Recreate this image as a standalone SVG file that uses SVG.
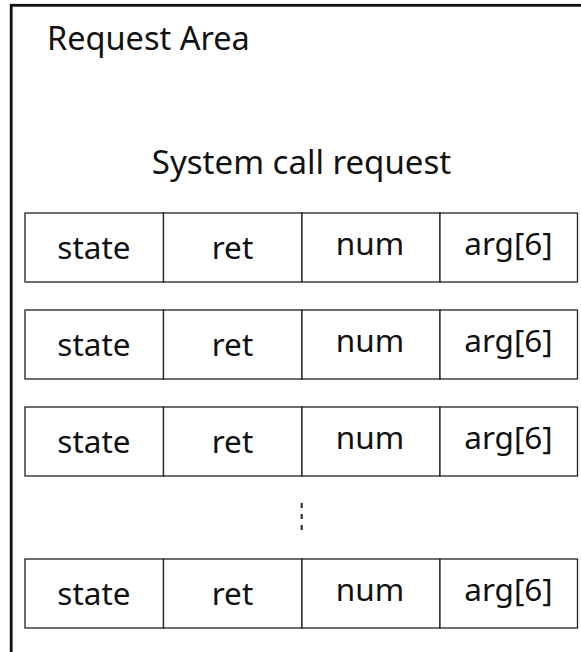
<svg xmlns="http://www.w3.org/2000/svg" width="581" height="652" viewBox="0 0 581 652">
  <style>
    .frame { fill: none; stroke: #111; stroke-width: 2.8; }
    .cell { fill: #fff; stroke: #222; stroke-width: 1.3; }
    .title { font-family: "Noto Sans", "Liberation Sans", sans-serif; font-size: 32.5px; fill: #111; }
    .label { font-family: "Noto Sans", "Liberation Sans", sans-serif; font-size: 31.5px; fill: #111; text-anchor: middle; }
    .gap { stroke: #222; stroke-width: 2; stroke-dasharray: 5 6; }
  </style>
  <defs>
    <!-- one request record: state | ret | num | arg[6] -->
    <g id="record">
      <rect class="cell" x="25" y="0" width="138.5" height="69"/>
      <rect class="cell" x="163.5" y="0" width="138.5" height="69"/>
      <rect class="cell" x="302" y="0" width="138" height="69"/>
      <rect class="cell" x="440" y="0" width="137.5" height="69"/>
      <text class="label" x="94" y="46">state</text>
      <text class="label" x="232.5" y="46">ret</text>
      <text class="label" x="370" y="42">num</text>
      <text class="label" x="508.5" y="42">arg[6]</text>
    </g>
  </defs>

  <!-- request area container, open past the right and bottom edges -->
  <g id="request-area">
    <rect class="frame" x="11.2" y="5.3" width="600" height="700"/>
    <text class="title" x="47" y="49.5">Request Area</text>
  </g>

  <g id="syscall-title">
    <text class="title" x="301.5" y="174" text-anchor="middle" style="font-size:33px">System call request</text>
  </g>

  <g id="request-1" transform="translate(0,213)"><use href="#record"/></g>
  <g id="request-2" transform="translate(0,310)"><use href="#record"/></g>
  <g id="request-3" transform="translate(0,407)"><use href="#record"/></g>

  <g id="connectors">
    <line class="gap" x1="301.7" y1="503" x2="301.7" y2="531"/>
  </g>

  <g id="request-n" transform="translate(0,559)"><use href="#record"/></g>
</svg>
